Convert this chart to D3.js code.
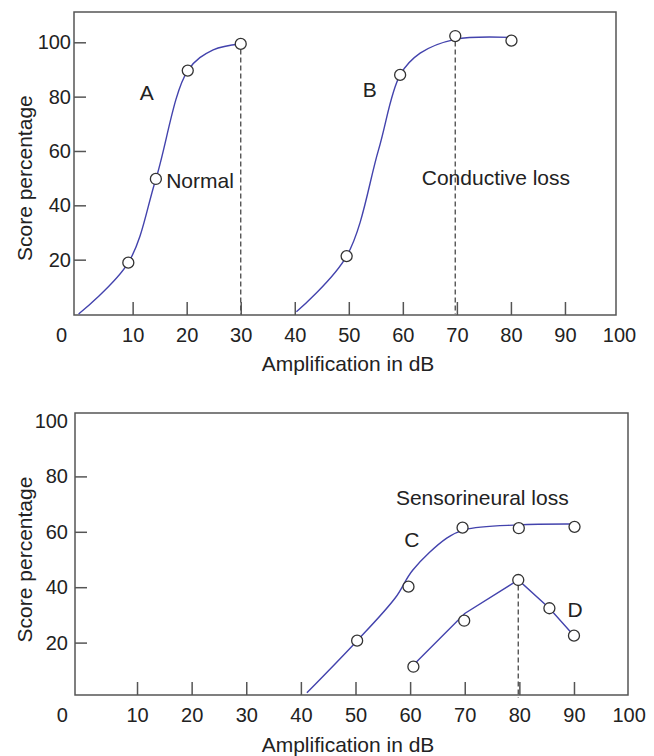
<!DOCTYPE html>
<html>
<head>
<meta charset="utf-8">
<script src="https://cdn.jsdelivr.net/npm/d3@7"></script>
<style>
  body { margin: 0; background: #fff; }
  svg { display: block; font-family: "Liberation Sans", Arial, sans-serif; }
  .tick text { fill: #222; }
</style>
</head>
<body>
<svg width="654" height="756"></svg>
<script>
// tick values
var xTicks = [0, 10, 20, 30, 40, 50, 60, 70, 80, 90, 100];
var yTicks = [20, 40, 60, 80, 100];

// top panel: curve A (normal) and curve B (conductive loss)
var lineA = [[0, 0], [9.2, 18.9], [14.3, 49.7], [20.2, 89.6], [24.9, 97.2], [30, 99.4]];
var pointsA = [[9.2, 18.9], [14.3, 49.7], [20.2, 89.6], [30, 99.4]];
var lineB = [[40.3, 0.8], [49.6, 21.3], [55.5, 60.4], [59.5, 88], [63.2, 96], [69.7, 101.1], [80.1, 101.8]];
var pointsB = [[49.6, 21.3], [59.5, 88], [69.7, 102.3], [80.1, 100.6]];

// bottom panel: curve C and D (sensorineural loss)
var lineC = [[41.1, 1.9], [50.3, 20.7], [57.3, 36.2], [60.5, 46.2], [66.7, 57.7], [70, 60.8], [79.8, 62.5], [89.9, 62.8]];
var pointsC = [[50.3, 20.7], [59.7, 40.2], [69.6, 61.5], [79.9, 61.3], [90.1, 61.8]];
var lineD = [[60.6, 11.9], [70, 30.5], [79.8, 42.6], [85.5, 32.4], [90, 22.5]];
var pointsD = [[60.6, 11.3], [69.9, 27.9], [79.8, 42.6], [85.5, 32.4], [90, 22.5]];

var svg = d3.select("svg");
var blue = "#4343ad";

function panel(opt) {
    var x = d3.scaleLinear().domain([0, 100]).range(opt.xRange),
        y = d3.scaleLinear().domain([0, 100]).range(opt.yRange);
    var g = svg.append("g");

    // frame
    g.append("rect")
        .attr("x", opt.box[0]).attr("y", opt.box[1])
        .attr("width", opt.box[2] - opt.box[0]).attr("height", opt.box[3] - opt.box[1])
        .attr("fill", "none").attr("stroke", "#555").attr("stroke-width", 1.5);

    // x axis, ticks pointing in
    var xa = g.append("g")
        .attr("transform", `translate(0,${opt.box[3]})`)
        .call(d3.axisBottom(x).tickValues(xTicks).tickSize(-13).tickPadding(13));
    xa.select(".domain").remove();
    xa.selectAll(".tick").filter(d => d == 0 || d == 100).select("line").remove();
    xa.selectAll(".tick").filter(d => d == 0).select("text").attr("dx", opt.zeroShift);
    xa.selectAll(".tick line").attr("stroke", "#555").attr("stroke-width", 1.5);
    xa.selectAll("text").style("font-size", "20px").style("font-family", "Liberation Sans, Arial, sans-serif");

    // y axis
    var ya = g.append("g")
        .attr("transform", `translate(${opt.box[0]},0)`)
        .call(d3.axisLeft(y).tickValues(yTicks).tickSize(-12).tickPadding(opt.yPad));
    ya.select(".domain").remove();
    if (opt.noTopTick) ya.selectAll(".tick").filter(d => d == 100).select("line").remove();
    ya.selectAll(".tick line").attr("stroke", "#555").attr("stroke-width", 1.5);
    ya.selectAll("text").style("font-size", "20px").style("font-family", "Liberation Sans, Arial, sans-serif");

    // axis titles
    g.append("text")
        .attr("x", 348).attr("y", opt.xTitleY)
        .attr("text-anchor", "middle")
        .style("font-size", "21px").attr("fill", "#222")
        .text("Amplification in dB");
    g.append("text")
        .attr("transform", `translate(32,${y(50)}) rotate(-90)`)
        .attr("text-anchor", "middle")
        .style("font-size", "21px").attr("fill", "#222")
        .text("Score percentage");

    return {g: g, x: x, y: y};
}

function drawSeries(p, line, points, curve) {
    var path = d3.line()
        .x(d => p.x(d[0]))
        .y(d => p.y(d[1]))
        .curve(curve);
    p.g.append("path")
        .datum(line)
        .attr("d", path)
        .attr("fill", "none")
        .attr("stroke", blue)
        .attr("stroke-width", 1.4);
    p.g.selectAll(null)
        .data(points)
        .enter().append("circle")
        .attr("cx", d => p.x(d[0]))
        .attr("cy", d => p.y(d[1]))
        .attr("r", 5.5)
        .attr("fill", "#fff")
        .attr("stroke", "#333")
        .attr("stroke-width", 1.3);
}

function dash(p, pt) {
    p.g.append("line")
        .attr("x1", p.x(pt[0])).attr("x2", p.x(pt[0]))
        .attr("y1", p.y(pt[1]) + 5.5).attr("y2", p.y(0))
        .attr("stroke", "#555")
        .attr("stroke-width", 1.4)
        .attr("stroke-dasharray", "5,3");
}

function label(p, txt, xv, yv, anchor) {
    p.g.append("text")
        .attr("x", p.x(xv)).attr("y", p.y(yv))
        .attr("text-anchor", anchor)
        .style("font-size", "21px").attr("fill", "#222")
        .text(txt);
}

var smooth = d3.curveCatmullRom.alpha(0.5);

// top panel
var upper = panel({
    xRange: [78.6, 619], yRange: [314, 42.3],
    box: [74, 12, 616, 315],
    zeroShift: -17.6, yPad: 3, xTitleY: 371
});
dash(upper, pointsA[3]);
dash(upper, pointsB[2]);
drawSeries(upper, lineA, pointsA, smooth);
drawSeries(upper, lineB, pointsB, smooth);
label(upper, "A", 12.6, 78.8, "middle");
label(upper, "Normal", 16.2, 46.4, "start");
label(upper, "B", 53.9, 80, "middle");
label(upper, "Conductive loss", 63.5, 47.5, "start");

// bottom panel
var lower = panel({
    xRange: [82.4, 628.6], yRange: [698, 421],
    box: [75, 413, 628, 695],
    zeroShift: -20.7, yPad: 7, xTitleY: 752, noTopTick: true
});
dash(lower, pointsD[2]);
drawSeries(lower, lineC, pointsC, smooth);
drawSeries(lower, lineD, pointsD, d3.curveLinear);
label(lower, "Sensorineural loss", 57.4, 69.7, "start");
label(lower, "C", 60.3, 54.6, "middle");
label(lower, "D", 90.2, 29.4, "middle");
</script>
</body>
</html>
